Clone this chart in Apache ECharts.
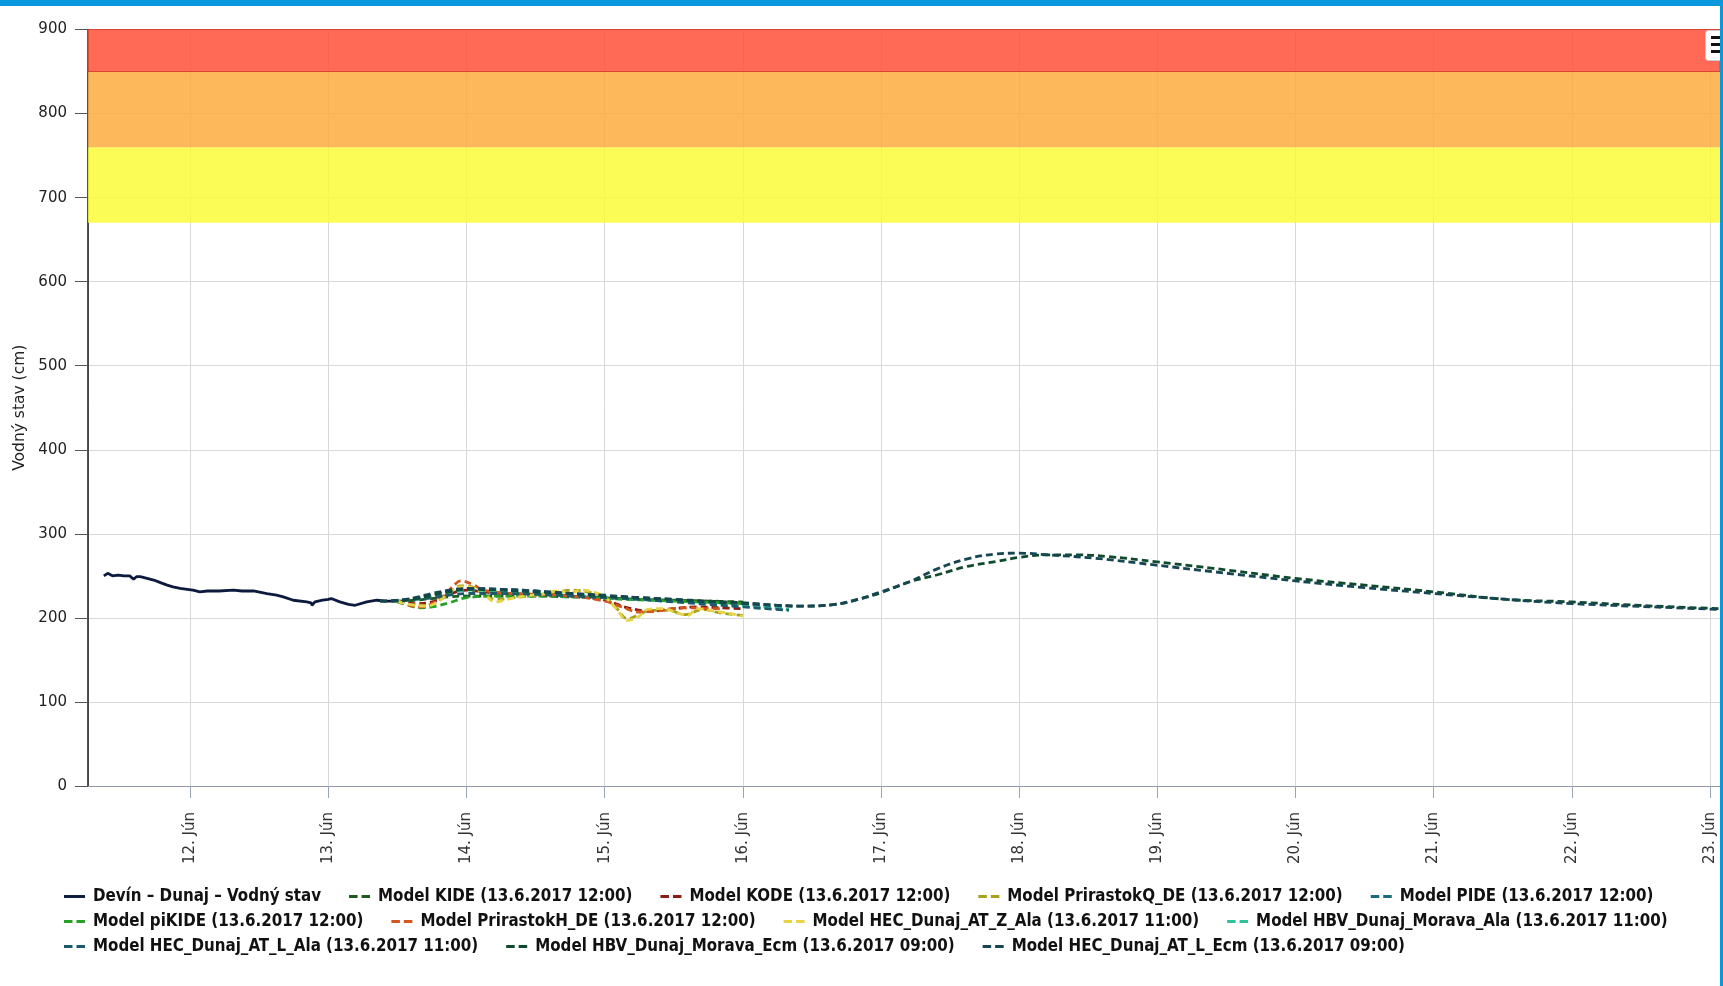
<!DOCTYPE html>
<html>
<head>
<meta charset="utf-8">
<title>Devín – Dunaj – Vodný stav</title>
<script src="https://cdn.jsdelivr.net/npm/echarts@6/dist/echarts.min.js"></script>
<style>
  html, body { margin: 0; padding: 0; background: #ffffff; }
  #chart { width: 1723px; height: 986px; }
</style>
</head>
<body>
<div id="chart"></div>
<script>
// Measured water level at Devín (cm)
const obsDevin = [
  ['2017-06-11 09:00', 250], ['2017-06-11 09:40', 253], ['2017-06-11 10:30', 250], ['2017-06-11 11:30', 251],
  ['2017-06-11 12:30', 250], ['2017-06-11 13:30', 250], ['2017-06-11 14:10', 246], ['2017-06-11 14:40', 249],
  ['2017-06-11 15:20', 249], ['2017-06-11 16:30', 247], ['2017-06-11 17:40', 245], ['2017-06-11 18:50', 242],
  ['2017-06-11 20:00', 239], ['2017-06-11 21:00', 237], ['2017-06-11 22:15', 235], ['2017-06-11 23:30', 234],
  ['2017-06-12 00:30', 233], ['2017-06-12 01:40', 231], ['2017-06-12 03:00', 232], ['2017-06-12 05:00', 232],
  ['2017-06-12 07:30', 233], ['2017-06-12 09:00', 232], ['2017-06-12 11:00', 232], ['2017-06-12 13:20', 229],
  ['2017-06-12 15:00', 227], ['2017-06-12 16:10', 225], ['2017-06-12 17:55', 221], ['2017-06-12 20:15', 219],
  ['2017-06-12 21:00', 218], ['2017-06-12 21:10', 215], ['2017-06-12 21:40', 219], ['2017-06-12 22:00', 220],
  ['2017-06-12 23:00', 221], ['2017-06-13 00:00', 222], ['2017-06-13 00:30', 223], ['2017-06-13 02:00', 219],
  ['2017-06-13 03:30', 216], ['2017-06-13 04:40', 215], ['2017-06-13 06:40', 219], ['2017-06-13 08:25', 221],
  ['2017-06-13 10:00', 220], ['2017-06-13 11:00', 220]
];

// Forecast runs (cm)
const mKIDE = [
  ['2017-06-13 12:00', 220], ['2017-06-13 15:00', 221], ['2017-06-13 18:00', 223], ['2017-06-13 21:00', 225],
  ['2017-06-14 00:00', 226], ['2017-06-14 06:00', 226], ['2017-06-14 12:00', 226], ['2017-06-14 18:00', 225],
  ['2017-06-15 00:00', 224], ['2017-06-15 06:00', 222], ['2017-06-15 12:00', 221], ['2017-06-15 18:00', 220],
  ['2017-06-16 00:00', 219]
];
const mKODE = [
  ['2017-06-13 12:00', 220], ['2017-06-13 15:00', 217], ['2017-06-13 18:00', 219], ['2017-06-13 21:00', 228],
  ['2017-06-14 00:00', 233], ['2017-06-14 03:00', 231], ['2017-06-14 06:00', 229], ['2017-06-14 12:00', 228],
  ['2017-06-14 18:00', 226], ['2017-06-15 00:00', 221], ['2017-06-15 04:00', 212], ['2017-06-15 08:00', 208],
  ['2017-06-15 12:00', 211], ['2017-06-15 16:00', 213], ['2017-06-15 20:00', 212], ['2017-06-16 00:00', 211]
];
const mPrirastokQ = [
  ['2017-06-13 12:00', 220], ['2017-06-13 14:00', 216], ['2017-06-13 17:00', 215], ['2017-06-13 20:00', 224],
  ['2017-06-13 23:00', 238], ['2017-06-14 01:00', 237], ['2017-06-14 03:00', 228], ['2017-06-14 05:00', 222],
  ['2017-06-14 08:00', 224], ['2017-06-14 12:00', 227], ['2017-06-14 16:00', 231], ['2017-06-14 18:00', 233],
  ['2017-06-14 21:00', 231], ['2017-06-15 00:00', 224], ['2017-06-15 02:00', 212], ['2017-06-15 04:00', 199],
  ['2017-06-15 06:00', 204], ['2017-06-15 08:00', 209], ['2017-06-15 11:00', 209], ['2017-06-15 14:00', 204],
  ['2017-06-15 17:00', 210], ['2017-06-15 20:00', 206], ['2017-06-16 00:00', 203]
];
const mPIDE = [
  ['2017-06-13 11:00', 220], ['2017-06-13 15:00', 223], ['2017-06-13 18:00', 227], ['2017-06-13 21:00', 232],
  ['2017-06-14 00:00', 235], ['2017-06-14 06:00', 234], ['2017-06-14 12:00', 232], ['2017-06-14 18:00', 229],
  ['2017-06-15 00:00', 226], ['2017-06-15 06:00', 224], ['2017-06-15 12:00', 221], ['2017-06-15 18:00', 219],
  ['2017-06-16 00:00', 216], ['2017-06-16 04:00', 213], ['2017-06-16 08:00', 210]
];
const mPiKIDE = [
  ['2017-06-13 12:00', 219], ['2017-06-13 14:00', 215], ['2017-06-13 16:00', 212], ['2017-06-13 18:00', 213],
  ['2017-06-13 21:00', 218], ['2017-06-14 00:00', 224], ['2017-06-14 06:00', 226], ['2017-06-14 12:00', 226],
  ['2017-06-14 18:00', 225], ['2017-06-15 00:00', 223], ['2017-06-15 12:00', 220], ['2017-06-16 00:00', 217]
];
const mPrirastokH = [
  ['2017-06-13 12:00', 220], ['2017-06-13 14:00', 215], ['2017-06-13 16:00', 213], ['2017-06-13 18:00', 217],
  ['2017-06-13 20:00', 226], ['2017-06-13 22:00', 240], ['2017-06-13 23:00', 244], ['2017-06-14 01:00', 240],
  ['2017-06-14 03:00', 233], ['2017-06-14 06:00', 230], ['2017-06-14 12:00', 228], ['2017-06-14 18:00', 226],
  ['2017-06-15 00:00', 220], ['2017-06-15 03:00', 213], ['2017-06-15 06:00', 207], ['2017-06-15 09:00', 208],
  ['2017-06-15 12:00', 211], ['2017-06-15 15:00', 212], ['2017-06-15 18:00', 211], ['2017-06-15 20:00', 211]
];
const mHecZAla = [
  ['2017-06-13 12:00', 220], ['2017-06-13 14:00', 216], ['2017-06-13 17:00', 214], ['2017-06-13 19:00', 219],
  ['2017-06-13 21:00', 230], ['2017-06-13 23:00', 237], ['2017-06-14 01:00', 236], ['2017-06-14 03:00', 229],
  ['2017-06-14 05:00', 219], ['2017-06-14 07:00', 222], ['2017-06-14 10:00', 226], ['2017-06-14 13:00', 228],
  ['2017-06-14 16:00', 232], ['2017-06-14 18:00', 230], ['2017-06-14 20:00', 233], ['2017-06-14 22:00', 231],
  ['2017-06-15 00:00', 225], ['2017-06-15 02:00', 211], ['2017-06-15 04:00', 197], ['2017-06-15 06:00', 202],
  ['2017-06-15 07:30', 210], ['2017-06-15 10:00', 211], ['2017-06-15 13:00', 205], ['2017-06-15 14:30', 203],
  ['2017-06-15 16:00', 211], ['2017-06-15 19:00', 208], ['2017-06-15 22:00', 205], ['2017-06-16 00:00', 202]
];
const mHbvAla = [
  ['2017-06-13 11:00', 220], ['2017-06-13 15:00', 222], ['2017-06-13 18:00', 225], ['2017-06-13 21:00', 230],
  ['2017-06-14 00:00', 233], ['2017-06-14 06:00', 232], ['2017-06-14 12:00', 230], ['2017-06-14 18:00', 228],
  ['2017-06-15 00:00', 225], ['2017-06-15 06:00', 222], ['2017-06-15 12:00', 220], ['2017-06-15 18:00', 217],
  ['2017-06-16 00:00', 214], ['2017-06-16 04:00', 212], ['2017-06-16 08:00', 210]
];
const mHecLAla = [
  ['2017-06-13 11:00', 220], ['2017-06-13 15:00', 222], ['2017-06-13 18:00', 224], ['2017-06-13 21:00', 227],
  ['2017-06-14 00:00', 229], ['2017-06-14 06:00', 229], ['2017-06-14 12:00', 228], ['2017-06-14 18:00', 226],
  ['2017-06-15 00:00', 224], ['2017-06-15 06:00', 222], ['2017-06-15 12:00', 219], ['2017-06-15 18:00', 216],
  ['2017-06-16 00:00', 213], ['2017-06-16 04:00', 211], ['2017-06-16 08:00', 209]
];
const mHbvEcm = [
  ['2017-06-13 09:00', 220], ['2017-06-13 12:00', 220], ['2017-06-13 15:00', 223], ['2017-06-13 18:00', 227],
  ['2017-06-13 21:00', 231], ['2017-06-14 00:00', 234], ['2017-06-14 06:00', 233], ['2017-06-14 12:00', 231],
  ['2017-06-14 18:00', 229], ['2017-06-15 00:00', 226], ['2017-06-15 06:00', 224], ['2017-06-15 12:00', 222],
  ['2017-06-15 18:00', 220], ['2017-06-16 00:00', 218], ['2017-06-16 06:00', 215], ['2017-06-16 10:00', 214],
  ['2017-06-16 16:00', 216], ['2017-06-16 20:00', 222], ['2017-06-17 00:00', 230], ['2017-06-17 05:00', 243],
  ['2017-06-17 09:40', 251], ['2017-06-17 14:50', 261], ['2017-06-17 19:55', 267], ['2017-06-18 00:00', 272],
  ['2017-06-18 05:00', 275], ['2017-06-18 10:00', 275], ['2017-06-18 15:20', 273], ['2017-06-18 23:30', 267],
  ['2017-06-19 09:40', 259], ['2017-06-20 00:00', 247], ['2017-06-20 12:00', 239], ['2017-06-21 00:00', 231],
  ['2017-06-21 12:45', 222], ['2017-06-22 00:00', 219], ['2017-06-22 14:20', 214], ['2017-06-23 01:45', 211]
];
const mHecLEcm = [
  ['2017-06-13 09:00', 220], ['2017-06-13 12:00', 221], ['2017-06-13 15:00', 224], ['2017-06-13 18:00', 229],
  ['2017-06-13 21:00', 233], ['2017-06-14 00:00', 235], ['2017-06-14 06:00', 234], ['2017-06-14 12:00', 232],
  ['2017-06-14 18:00', 229], ['2017-06-15 00:00', 227], ['2017-06-15 06:00', 224], ['2017-06-15 12:00', 222],
  ['2017-06-15 18:00', 219], ['2017-06-16 00:00', 217], ['2017-06-16 06:00', 215], ['2017-06-16 10:00', 214],
  ['2017-06-16 16:00', 216], ['2017-06-16 20:00', 222], ['2017-06-17 00:00', 231], ['2017-06-17 05:00', 243],
  ['2017-06-17 09:40', 258], ['2017-06-17 14:50', 270], ['2017-06-17 19:55', 276], ['2017-06-18 00:00', 277],
  ['2017-06-18 05:00', 275], ['2017-06-18 13:10', 271], ['2017-06-18 23:30', 263], ['2017-06-19 09:40', 255],
  ['2017-06-20 00:00', 244], ['2017-06-20 12:00', 236], ['2017-06-21 00:00', 229], ['2017-06-21 12:45', 222],
  ['2017-06-22 00:00', 217], ['2017-06-22 14:20', 213], ['2017-06-23 01:45', 210]
];

// Flood warning levels (cm)
const warnLevels = [670, 760, 850, 900];

const seriesNames = [
  'Devín – Dunaj – Vodný stav',
  'Model KIDE (13.6.2017 12:00)',
  'Model KODE (13.6.2017 12:00)',
  'Model PrirastokQ_DE (13.6.2017 12:00)',
  'Model PIDE (13.6.2017 12:00)',
  'Model piKIDE (13.6.2017 12:00)',
  'Model PrirastokH_DE (13.6.2017 12:00)',
  'Model HEC_Dunaj_AT_Z_Ala (13.6.2017 11:00)',
  'Model HBV_Dunaj_Morava_Ala (13.6.2017 11:00)',
  'Model HEC_Dunaj_AT_L_Ala (13.6.2017 11:00)',
  'Model HBV_Dunaj_Morava_Ecm (13.6.2017 09:00)',
  'Model HEC_Dunaj_AT_L_Ecm (13.6.2017 09:00)'
];
const seriesData = [obsDevin, mKIDE, mKODE, mPrirastokQ, mPIDE, mPiKIDE, mPrirastokH,
                    mHecZAla, mHbvAla, mHecLAla, mHbvEcm, mHecLEcm];
const seriesColors = ['#0c1a3e', '#1d5a1d', '#8c1c14', '#a6a21c', '#1c6a7b', '#26a026',
                      '#d2561e', '#e6d446', '#30c29a', '#1b5a68', '#0f4a2c', '#164652'];

const legendRows = [seriesNames.slice(0, 5), seriesNames.slice(5, 9), seriesNames.slice(9)];

const DAY = 24 * 3600 * 1000;
const labelFont = "'DejaVu Sans', Verdana, sans-serif";
const legendFont = "'DejaVu Sans Condensed', 'DejaVu Sans', sans-serif";

// Legend markers: a solid stroke for the measurement, two short dashes for forecasts
const solidIcon = 'path://M0,0H20V2.8H0Z';
const dashIcon = 'path://M0,0H7.5V2.8H0Z M11,0H18.5V2.8H11Z';

const chart = echarts.init(document.getElementById('chart'), null, { renderer: 'canvas' });

const series = seriesNames.map((name, i) => {
  const s = {
    name: name,
    type: 'line',
    data: seriesData[i],
    symbol: 'none',
    smooth: i === 0 ? false : 0.4,
    color: seriesColors[i],
    lineStyle: i === 0
      ? { color: seriesColors[i], width: 2.8 }
      : { color: seriesColors[i], width: 2.8, type: [7, 4] },
    z: 3 + i
  };
  if (i === 0) {
    s.markArea = {
      silent: true,
      data: [
        [{ yAxis: warnLevels[0], itemStyle: { color: 'rgba(252,252,58,0.85)' } }, { yAxis: warnLevels[1] }],
        [{ yAxis: warnLevels[1], itemStyle: { color: 'rgba(253,171,63,0.85)' } }, { yAxis: warnLevels[2] }],
        [{ yAxis: warnLevels[2], itemStyle: { color: 'rgba(255,80,56,0.85)', borderColor: '#d9452f', borderWidth: 1 } }, { yAxis: warnLevels[3] }]
      ]
    };
  }
  return s;
});

chart.setOption({
  animation: false,
  backgroundColor: '#ffffff',
  grid: { left: 88, right: 3, top: 29.5, bottom: 200, containLabel: false },
  xAxis: {
    type: 'time',
    min: '2017-06-11 06:15',
    max: '2017-06-23 01:45',
    minInterval: DAY,
    maxInterval: DAY,
    axisLine: { show: true, lineStyle: { color: '#8c98a6', width: 1 } },
    axisTick: { show: true, length: 12, lineStyle: { color: '#9aa6b4' } },
    axisLabel: {
      rotate: 90,
      margin: 26,
      fontSize: 15,
      fontFamily: labelFont,
      color: '#333',
      showMinLabel: false,
      showMaxLabel: false,
      formatter: function (v) { return new Date(v).getDate() + '. Jún'; }
    },
    splitLine: { show: true, lineStyle: { color: '#d8d8d8', width: 1 } }
  },
  yAxis: {
    type: 'value',
    min: 0,
    max: 900,
    interval: 100,
    name: 'Vodný stav (cm)',
    nameLocation: 'middle',
    nameGap: 60,
    nameRotate: 90,
    nameTextStyle: { fontSize: 15.5, fontFamily: labelFont, color: '#222' },
    axisLine: { show: true, lineStyle: { color: '#1a1a1a', width: 1.5 } },
    axisTick: { show: true, length: 13, lineStyle: { color: '#555' } },
    axisLabel: { margin: 21, fontSize: 15, fontFamily: labelFont, color: '#222' },
    splitLine: { show: true, lineStyle: { color: '#d8d8d8', width: 1 } }
  },
  legend: legendRows.map((row, r) => ({
    data: row.map(n => ({ name: n, icon: n === seriesNames[0] ? solidIcon : dashIcon })),
    left: 64,
    top: 888 + r * 25,
    orient: 'horizontal',
    padding: 0,
    itemGap: 28,
    itemWidth: 21,
    itemHeight: 12,
    symbolKeepAspect: true,
    selectedMode: false,
    textStyle: {
      fontFamily: legendFont,
      fontWeight: 'bold',
      fontSize: 16.8,
      color: '#111',
      padding: [0, 0, 0, 3]
    }
  })),
  series: series,
  graphic: [
    { type: 'rect', left: 0, top: 0, shape: { width: 1723, height: 6 }, style: { fill: '#0a98dc' }, z: 100 },
    { type: 'rect', left: 1720, top: 0, shape: { width: 3, height: 986 }, style: { fill: '#0a98dc' }, z: 100 },
    { type: 'rect', left: 1705, top: 30, shape: { width: 18, height: 30, r: 3 }, style: { fill: '#ffffff', stroke: '#cccccc', lineWidth: 1 }, z: 90 },
    { type: 'rect', left: 1711, top: 36, shape: { width: 11, height: 3 }, style: { fill: '#111111' }, z: 91 },
    { type: 'rect', left: 1711, top: 43, shape: { width: 11, height: 3 }, style: { fill: '#111111' }, z: 91 },
    { type: 'rect', left: 1711, top: 50, shape: { width: 11, height: 3 }, style: { fill: '#111111' }, z: 91 }
  ]
});
</script>
</body>
</html>
